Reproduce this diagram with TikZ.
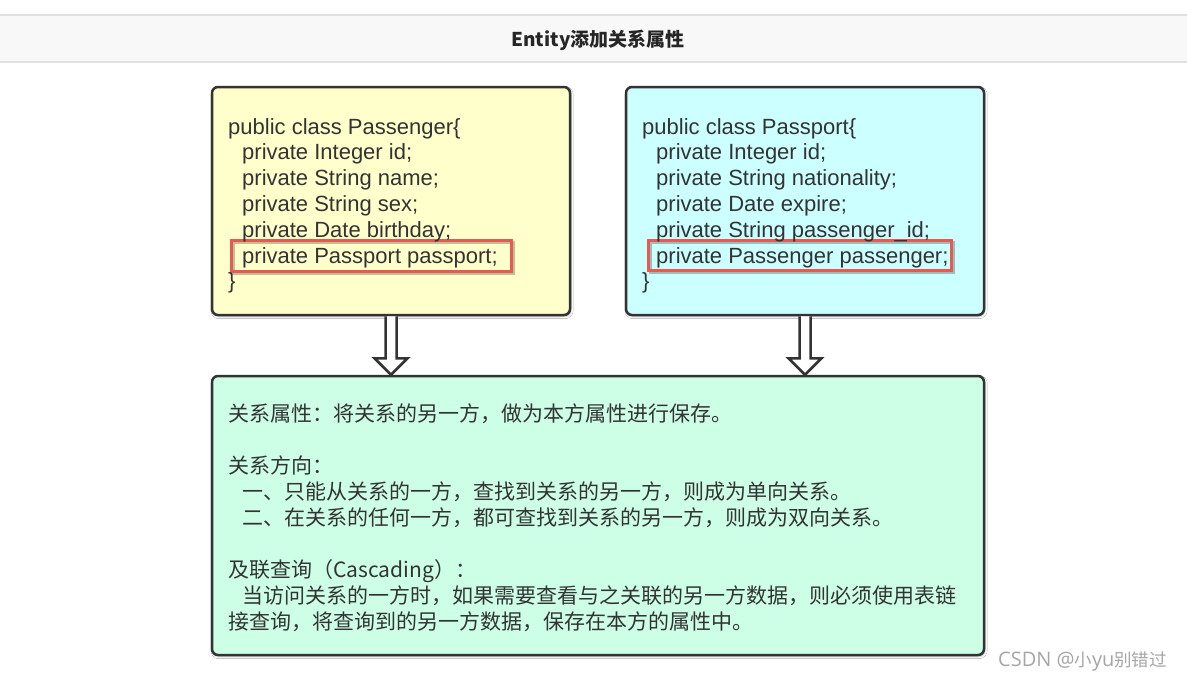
\documentclass[tikz,border=0pt]{standalone}
\usepackage{fontspec}
\setmainfont{Liberation Sans}
\newfontfamily\cjk{Noto Sans CJK SC}
\newfontfamily\osans{Open Sans}
\usetikzlibrary{calc,shadows.blur}
\definecolor{bordc}{HTML}{333333}
\definecolor{yel}{HTML}{FFFFCC}
\definecolor{cya}{HTML}{CCFFFF}
\definecolor{grn}{HTML}{CCFFE6}
\definecolor{redc}{HTML}{E85A4F}
\definecolor{txtc}{HTML}{333333}
\definecolor{bandc}{HTML}{F8F8F8}
\definecolor{bandl}{HTML}{E0E0E0}
\definecolor{wmc}{HTML}{A6A6A6}
\begin{document}
\begin{tikzpicture}[x=1pt,y=-1pt,
  box/.style={draw=bordc, line width=2.5pt, rounded corners=6pt, inner sep=0pt,
    blur shadow={shadow xshift=1pt, shadow yshift=-1.5pt, shadow blur steps=6, shadow opacity=25}},
  code/.style={anchor=base west, inner sep=0pt, text=txtc, font=\fontsize{22}{25.8}\selectfont},
  cn/.style={anchor=base west, inner sep=0pt, text=txtc, font=\cjk\fontsize{21}{26}\selectfont},
  hlbase/.style={inner sep=0pt, outer sep=0pt},
  hlline/.style={draw=redc, line width=3pt},
  hlshadow/.style={draw=black, opacity=0.25, line width=3pt},
  hollow/.style={draw=bordc, fill=white, line width=2.5pt, line join=miter}]
\useasboundingbox (0,0) rectangle (1187,683);
\fill[white] (0,0) rectangle (1187,683);
% header band
\fill[bandc] (0,15) rectangle (1187,62);
\draw[bandl, line width=1.5pt] (0,15) -- (1187,15);
\draw[bandl, line width=1.5pt] (0,62) -- (1187,62);
\node[inner sep=0pt, text=black!85, font=\cjk\bfseries\fontsize{19}{22}\selectfont] (title) at (598,40) {Entity添加关系属性};
% boxes
\node[box, fill=yel, minimum width=358pt, minimum height=228pt] (pg) at (391,201) {};
\node[box, fill=cya, minimum width=358pt, minimum height=228pt] (pp) at (805,201) {};
\node[box, fill=grn, minimum width=772pt, minimum height=279pt] (bt) at (598,515.5) {};
% highlights
\node[hlbase, minimum width=280pt, minimum height=31pt] (hl1) at (371.5,256) {};
\node[hlbase, minimum width=303pt, minimum height=30pt] (hl2) at (800,255.5) {};
\draw[hlshadow] ($(hl1.north west)+(1.5,1.5)$) rectangle ($(hl1.south east)+(1.5,1.5)$);
\draw[hlshadow] ($(hl2.north west)+(1.5,1.5)$) rectangle ($(hl2.south east)+(1.5,1.5)$);
\draw[hlline] (hl1.north west) rectangle (hl1.south east);
\draw[hlline] (hl2.north west) rectangle (hl2.south east);
% left code
\node[code] (a1) at (228,134) {public class Passenger\{};
\node[code] (a2) at (242,159.8) {private Integer id;};
\node[code] (a3) at (242,185.6) {private String name;};
\node[code] (a4) at (242,211.4) {private String sex;};
\node[code] (a5) at (242,237.2) {private Date birthday;};
\node[code] (a6) at (242,263) {private Passport passport;};
\node[code] (a7) at (228,288.8) {\}};
% right code
\node[code] (b1) at (642,134) {public class Passport\{};
\node[code] (b2) at (656,159.8) {private Integer id;};
\node[code] (b3) at (656,185.6) {private String nationality;};
\node[code] (b4) at (656,211.4) {private Date expire;};
\node[code] (b5) at (656,237.2) {private String passenger\_id;};
\node[code] (b6) at (656,263) {private Passenger passenger;};
\node[code] (b7) at (642,288.8) {\}};
% bottom text
\node[cn] (c1) at (228,421) {关系属性：将关系的另一方，做为本方属性进行保存。};
\node[cn] (c2) at (228,473.2) {关系方向：};
\node[cn] (c3) at (242,499.3) {一、只能从关系的一方，查找到关系的另一方，则成为单向关系。};
\node[cn] (c4) at (242,525.4) {二、在关系的任何一方，都可查找到关系的另一方，则成为双向关系。};
\node[cn] (c5) at (228,577.6) {及联查询（Cascading）：};
\node[cn] (c6) at (242,603.7) {当访问关系的一方时，如果需要查看与之关联的另一方数据，则必须使用表链};
\node[cn] (c7) at (228,629.8) {接查询，将查询到的另一方数据，保存在本方的属性中。};
% arrows
\draw[hollow] ($(pg.south)+(-5.5,0)$) -- ($(pg.south)+(-5.5,42)$) -- ($(pg.south)+(-16.5,42)$)
  -- (pg.south |- bt.north) -- ($(pg.south)+(16.5,42)$) -- ($(pg.south)+(5.5,42)$) -- ($(pg.south)+(5.5,0)$);
\draw[hollow] ($(pp.south)+(-5.5,0)$) -- ($(pp.south)+(-5.5,42)$) -- ($(pp.south)+(-16.5,42)$)
  -- (pp.south |- bt.north) -- ($(pp.south)+(16.5,42)$) -- ($(pp.south)+(5.5,42)$) -- ($(pp.south)+(5.5,0)$);
% watermark
\node[anchor=west, inner sep=0pt, text=wmc, font=\osans\fontsize{20}{22}\selectfont] (wm) at (998,662) {CSDN @{\cjk\fontsize{17.5}{20}\selectfont 小}yu{\cjk\fontsize{17.5}{20}\selectfont 别错过}};
\end{tikzpicture}
\end{document}
